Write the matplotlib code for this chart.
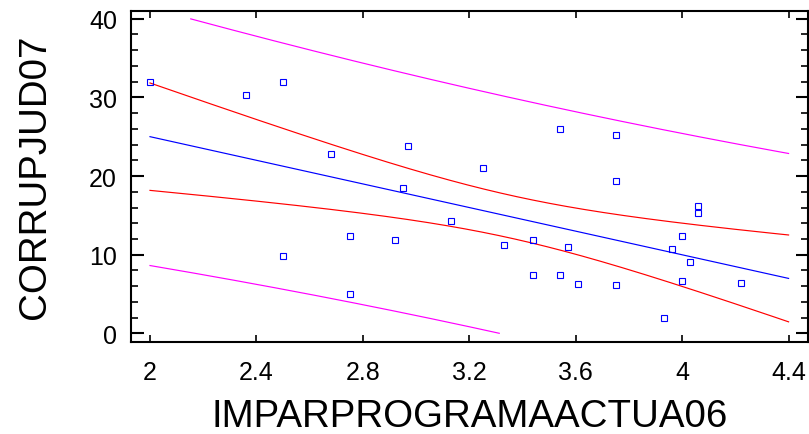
import numpy as np
import matplotlib
matplotlib.use("Agg")
import matplotlib.pyplot as plt
from matplotlib.ticker import MultipleLocator

# Data
impar = [2.00, 2.36, 2.50, 2.68, 2.97, 2.95, 3.54, 3.75, 3.25, 3.75,
         4.06, 4.06, 4.00, 3.96, 4.03, 3.13, 2.75, 2.92, 2.50, 2.75,
         3.33, 3.44, 3.57, 3.44, 3.54, 3.61, 3.75, 4.00, 4.22, 3.93]
corrup = [31.9, 30.3, 32.0, 22.8, 23.8, 18.5, 26.0, 25.2, 21.0, 19.4,
          16.2, 15.3, 12.4, 10.7, 9.1, 14.3, 12.4, 11.9, 9.8, 5.0,
          11.2, 11.9, 11.0, 7.4, 7.4, 6.3, 6.1, 6.7, 6.4, 1.9]
xticks = [2, 2.4, 2.8, 3.2, 3.6, 4, 4.4]
xtick_labels = ["2", "2.4", "2.8", "3.2", "3.6", "4", "4.4"]
yticks = [0, 10, 20, 30, 40]
t_crit = 2.048  # Student t, 95%, 28 d.f.

x = np.array(impar)
y = np.array(corrup)
n = len(x)
slope, intercept = np.polyfit(x, y, 1)
resid = y - (intercept + slope * x)
s = np.sqrt(np.sum(resid ** 2) / (n - 2))
sxx = np.sum((x - x.mean()) ** 2)

xg = np.linspace(xticks[0], xticks[-1], 800)
fit = intercept + slope * xg
se_mean = s * np.sqrt(1.0 / n + (xg - x.mean()) ** 2 / sxx)
se_pred = s * np.sqrt(1.0 + 1.0 / n + (xg - x.mean()) ** 2 / sxx)

def clipband(v):
    v = v.copy()
    v[(v > 40) | (v < 0)] = np.nan
    return v

plt.rcParams['font.family'] = ['Liberation Sans', 'DejaVu Sans']
fig = plt.figure(figsize=(8.09, 4.35), dpi=100)
ax = fig.add_axes([131 / 809, 1 - 343 / 435, 677 / 809, 331.5 / 435])

lw = 0.85
ax.plot(xg, clipband(fit + t_crit * se_pred), color='#ff00ff', lw=lw)
ax.plot(xg, clipband(fit - t_crit * se_pred), color='#ff00ff', lw=lw)
ax.plot(xg, clipband(fit + t_crit * se_mean), color='#ff0000', lw=lw)
ax.plot(xg, clipband(fit - t_crit * se_mean), color='#ff0000', lw=lw)
ax.plot(xg, fit, color='#0000ff', lw=lw)
ax.plot(x, y, linestyle='none', marker='s', markersize=4.4,
        markerfacecolor='none', markeredgecolor='#0000ff', markeredgewidth=0.8)

ax.set_xlim(1.9286, 4.473)
ax.set_ylim(-1.1, 41.05)
ax.set_xticks(xticks)
ax.set_xticklabels(xtick_labels)
ax.set_yticks(yticks)
ax.yaxis.set_minor_locator(MultipleLocator(2))

for sp in ax.spines.values():
    sp.set_linewidth(1.5)

ax.tick_params(axis='x', which='major', direction='in', top=True, bottom=True,
               length=5, width=1.2, labelsize=18, pad=13)
ax.tick_params(axis='y', which='major', direction='in', left=True, right=True,
               length=9, width=1.5, labelsize=18, pad=10)
ax.tick_params(axis='y', which='minor', direction='in', left=True, right=True,
               length=5, width=1.2)

ax.set_xlabel("IMPARPROGRAMAACTUA06", fontsize=27.7, labelpad=10)
ax.set_ylabel("CORRUPJUD07", fontsize=27.7, labelpad=26)

fig.savefig("out.png", dpi=100)
